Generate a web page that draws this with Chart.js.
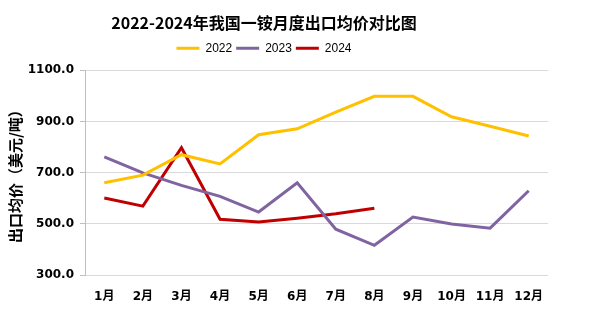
<!DOCTYPE html>
<html>
<head>
<meta charset="utf-8">
<script src="https://cdn.jsdelivr.net/npm/chart.js@4"></script>
<style>
  html, body { margin:0; padding:0; background:#fff; }
  #wrap { width:605px; height:321px; }
</style>
</head>
<body>
<div id="wrap"><canvas id="c" width="605" height="321"></canvas></div>
<script>
const months = ['1月','2月','3月','4月','5月','6月','7月','8月','9月','10月','11月','12月'];
const y2022 = [660, 690, 770, 734, 848, 871, 936, 998, 998, 918, 881, 843];
const y2023 = [761, 699, 650, 607, 546, 660, 479, 416, 526, 499, 483, 629];
const y2024 = [601, 569, 797, 518, 507, 522, 539, 561];

const CJK = "'Noto Sans CJK SC', sans-serif";
const TICK = "'DejaVu Sans', 'Noto Sans CJK SC', sans-serif";
const LEG = "'Liberation Sans', sans-serif";

Chart.defaults.font.family = CJK;
Chart.defaults.color = '#000';

// nudge title + legend so they sit where the original has them
const nudge = {
    id: 'nudge',
    afterLayout(chart) {
        const t = chart.titleBlock, l = chart.legend;
        if (t) { t.left -= 13; t.right -= 13; }
        if (l) { l.left -= 13; l.right -= 13; l.top -= 6; l.bottom -= 6; }
    }
};

new Chart(document.getElementById('c'), {
    type: 'line',
    data: {
        labels: months,
        datasets: [
            { label:'2022', data:y2022, borderColor:'#FFC000', backgroundColor:'#FFC000' },
            { label:'2023', data:y2023, borderColor:'#8064A2', backgroundColor:'#8064A2' },
            { label:'2024', data:y2024, borderColor:'#C00000', backgroundColor:'#C00000' }
        ].map(d => Object.assign(d, { borderWidth:3, pointRadius:0, tension:0, fill:false }))
    },
    plugins: [nudge],
    options: {
        responsive: false,
        animation: false,
        layout: { padding: { left:6, right:57, top:0, bottom:0 } },
        plugins: {
            title: {
                display: true,
                text: '2022-2024年我国一铵月度出口均价对比图',
                font: { size:16, weight:'bold', family:CJK },
                color: '#000',
                padding: { top:13, bottom:12 }
            },
            legend: {
                labels: {
                    usePointStyle: true,
                    pointStyle: 'line',
                    pointStyleWidth: 23,
                    font: { size:12, family:LEG },
                    color: '#000',
                    padding: 4
                }
            },
            tooltip: { enabled:false }
        },
        scales: {
            x: {
                offset: true,
                grid: { display:false },
                border: { display:false },
                ticks: { font: { size:12, weight:'bold', family:TICK }, color:'#000', maxRotation:0, padding:7 },
                afterFit: s => { s.height = 46; }
            },
            y: {
                min: 300, max: 1100,
                ticks: {
                    stepSize: 200,
                    font: { size:12, weight:'bold', family:TICK },
                    color:'#000',
                    padding: 6,
                    callback: v => v.toFixed(1)
                },
                grid: { color:'#d9d9d9', tickLength:5, tickColor:'#bfbfbf' },
                border: { color:'#bfbfbf' },
                title: {
                    display: true,
                    text: '出口均价（美元/吨）',
                    font: { size:15, weight:'bold', family:CJK },
                    color:'#000',
                    padding: { top:0, bottom:4 }
                },
                afterFit: s => { s.width = 79; }
            }
        }
    }
});
</script>
</body>
</html>
